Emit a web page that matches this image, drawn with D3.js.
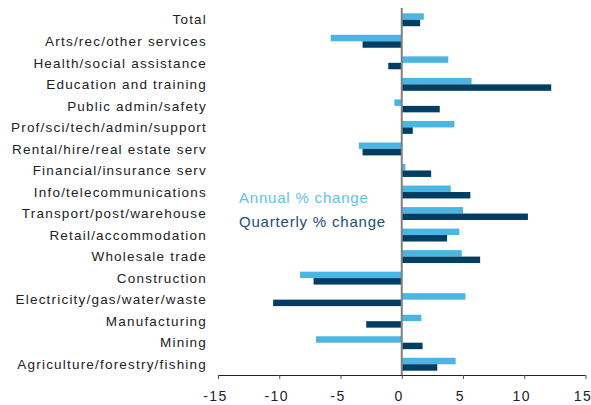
<!DOCTYPE html>
<html>
<head>
<meta charset="utf-8">
<script src="https://cdn.jsdelivr.net/npm/d3@7"></script>
<style>
    body { margin: 0; background: #fff; }
    text { font-family: "Liberation Sans", Arial, sans-serif; }
</style>
</head>
<body>
<div id="chart"></div>
<script>
var categories = [
    'Total',
    'Arts/rec/other services',
    'Health/social assistance',
    'Education and training',
    'Public admin/safety',
    'Prof/sci/tech/admin/support',
    'Rental/hire/real estate serv',
    'Financial/insurance serv',
    'Info/telecommunications',
    'Transport/post/warehouse',
    'Retail/accommodation',
    'Wholesale trade',
    'Construction',
    'Electricity/gas/water/waste',
    'Manufacturing',
    'Mining',
    'Agriculture/forestry/fishing'
];
var annual = [1.8, -5.8, 3.8, 5.7, -0.6, 4.3, -3.5, 0.3, 4.0, 5.0, 4.7, 4.9, -8.3, 5.2, 1.6, -7.0, 4.4];
var quarterly = [1.5, -3.2, -1.1, 12.2, 3.1, 0.9, -3.2, 2.4, 5.6, 10.3, 3.7, 6.4, -7.2, -10.5, -2.9, 1.7, 2.9];
var xTicks = [-15, -10, -5, 0, 5, 10, 15];

function drawChart() {
    var width = 591, height = 405;
    var left = 218, right = 585.5, top = 9, axisY = 375;

    var svg = d3.select('#chart').append('svg')
        .attr('width', width)
        .attr('height', height);

    var x = d3.scaleLinear().domain([-15, 15]).range([left, right]);
    var y = d3.scaleBand().domain(categories).range([top, axisY])
        .paddingInner(0.4).paddingOuter(0.2);
    var half = y.bandwidth() / 2;

    var rows = categories.map(function (c, i) {
        return { name: c, annual: annual[i], quarterly: quarterly[i] };
    });

    // annual bars (top half of each band)
    svg.append('g').selectAll('rect')
        .data(rows).enter().append('rect')
        .attr('x', function (d) { return x(Math.min(0, d.annual)); })
        .attr('y', function (d) { return y(d.name); })
        .attr('width', function (d) { return Math.abs(x(d.annual) - x(0)); })
        .attr('height', half)
        .attr('fill', '#4bb5e3');

    // quarterly bars (bottom half)
    svg.append('g').selectAll('rect')
        .data(rows).enter().append('rect')
        .attr('x', function (d) { return x(Math.min(0, d.quarterly)); })
        .attr('y', function (d) { return y(d.name) + half; })
        .attr('width', function (d) { return Math.abs(x(d.quarterly) - x(0)); })
        .attr('height', half)
        .attr('fill', '#003f63');

    // zero line
    svg.append('line')
        .attr('x1', x(0)).attr('x2', x(0))
        .attr('y1', 8).attr('y2', axisY)
        .attr('stroke', '#808080')
        .attr('stroke-width', 2);

    // category labels
    svg.append('g').selectAll('text')
        .data(categories).enter().append('text')
        .attr('x', 207)
        .attr('y', function (d) { return y(d) + y.bandwidth() / 2; })
        .attr('dy', '0.35em')
        .attr('text-anchor', 'end')
        .attr('font-size', 13.5)
        .attr('fill', '#222')
        .style('letter-spacing', '1.2px')
        .text(function (d) { return d; });

    // x axis
    var xAxis = d3.axisBottom(x).tickValues(xTicks).tickSize(4).tickPadding(12)
        .tickFormat(function (d) { return d < 0 ? '-' + Math.abs(d) : d; });
    var gx = svg.append('g')
        .attr('transform', 'translate(0,' + axisY + ')')
        .call(xAxis);
    gx.select('.domain').attr('stroke', '#222').attr('d', 'M' + left + ',0.5H' + right);
    gx.selectAll('.tick line').attr('stroke', '#555');
    gx.selectAll('.tick text')
        .attr('font-size', 14)
        .attr('dx', -3)
        .attr('font-family', '"Liberation Sans", Arial, sans-serif')
        .attr('fill', '#222')
        .style('letter-spacing', '1.5px');

    // legend
    svg.append('text')
        .attr('x', 239).attr('y', 198).attr('dy', '0.35em')
        .attr('font-size', 15)
        .attr('fill', '#5dc3ee')
        .style('letter-spacing', '0.8px')
        .text('Annual % change');
    svg.append('text')
        .attr('x', 239).attr('y', 222).attr('dy', '0.35em')
        .attr('font-size', 15)
        .attr('fill', '#1f4e74')
        .style('letter-spacing', '0.8px')
        .text('Quarterly % change');
}

window.addEventListener('load', function () {
    drawChart();
});
</script>
</body>
</html>
